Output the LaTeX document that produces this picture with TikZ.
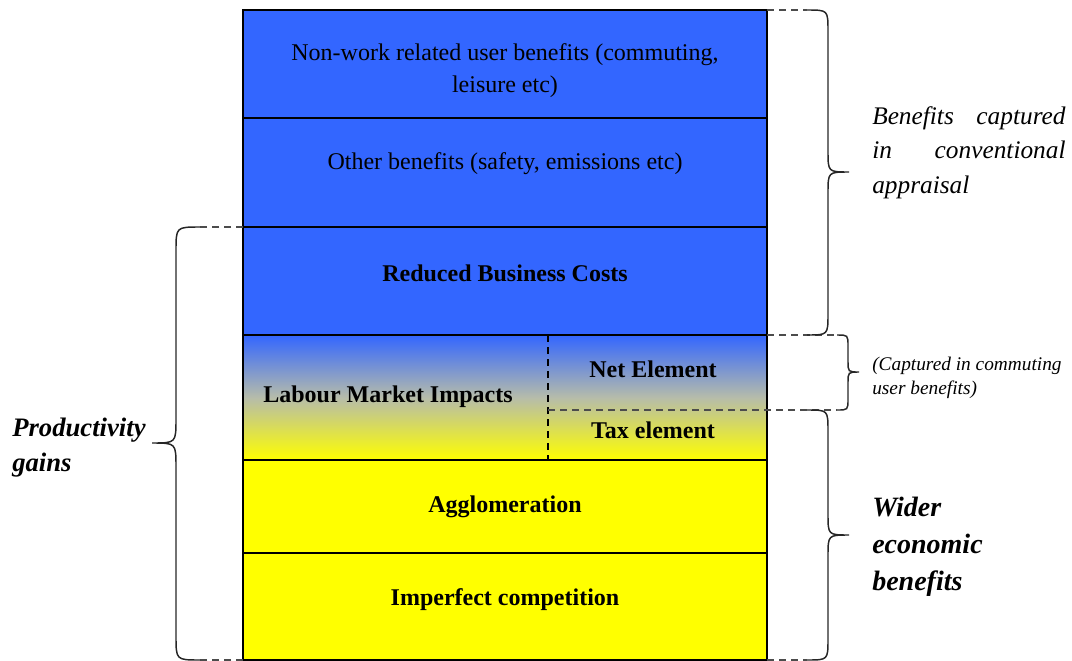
\documentclass[tikz,border=0pt]{standalone}
\usepackage{fontspec}
\setmainfont{Liberation Serif}
\usetikzlibrary{positioning}
\definecolor{benblue}{RGB}{51,102,255}
\definecolor{benyellow}{RGB}{255,255,0}
\definecolor{benmid}{RGB}{182,188,170}

\begin{document}
\begin{tikzpicture}[x=0.75pt,y=-0.75pt,
  cell/.style={draw=black,line width=1.5pt,minimum width=393pt,anchor=north west,inner sep=0pt,outer sep=0pt},
  body/.style={font=\fontsize{18}{24}\selectfont,align=center},
  strong/.style={font=\fontsize{18}{24}\selectfont\bfseries},
  guide/.style={draw=black!70,line width=1pt,dash pattern=on 5pt off 4pt},
  bracket/.style={draw=black!85,line width=1.1pt}]
\useasboundingbox (0,0) rectangle (1072,661);
% the stacked benefit cells
\node[cell,fill=benblue,minimum height=81pt] (nonwork) at (243,10) {};
\node[cell,fill=benblue,minimum height=81.75pt] (other) at (nonwork.south west) {};
\node[cell,fill=benblue,minimum height=81pt] (business) at (other.south west) {};
\node[cell,top color=benblue,bottom color=benyellow,middle color=benmid,minimum height=93.75pt] (labour) at (business.south west) {};
\node[cell,fill=benyellow,minimum height=69.75pt] (agglo) at (labour.south west) {};
\node[cell,fill=benyellow,minimum height=80.25pt] (imperfect) at (agglo.south west) {};
\node[body] at (505,71) {Non-work related user benefits (commuting,\\ leisure etc)};
\node[body] at (505,164) {Other benefits (safety, emissions etc)};
\node[strong] at (505,273) {Reduced Business Costs};
\node[strong] at (388,397) {Labour Market Impacts};
\node[strong] at (653,369) {Net Element};
\node[strong] at (653,430) {Tax element};
\node[strong] at (505,507) {Agglomeration};
\node[strong] at (505,600) {Imperfect competition};
% split of labour market cell
\coordinate (netcol) at (548,0);
\coordinate (taxline) at (548,410);
\draw[guide,draw=black] (labour.north -| netcol) -- (labour.south -| netcol);
% brace ends
\coordinate (convtop) at (807,10);
\coordinate (convbot) at (807,335);
\coordinate (comtop) at (837,335);
\coordinate (combot) at (837,410);
\coordinate (widetop) at (807,410);
\coordinate (widebot) at (807,660);
\coordinate (prodtop) at (200,227);
\coordinate (prodbot) at (200,660);
\draw[guide] (nonwork.north east) -- (convtop);
\draw[guide] (business.south east) -- (comtop);
\draw[guide] (taxline) -- (combot);
\draw[guide] (imperfect.south east) -- (widebot);
\draw[guide] (business.north west) -- (prodtop);
\draw[guide] (imperfect.south west) -- (prodbot);
% braces
\draw[bracket] (convtop) .. controls (828,10) .. (828,31) -- (828,151) .. controls (828,172) .. (849,172)
  .. controls (828,172) .. (828,193) -- (828,314) .. controls (828,335) .. (convbot);
\draw[bracket] (comtop) .. controls (848,335) .. (848,346) -- (848,361) .. controls (848,372) .. (859,372)
  .. controls (848,372) .. (848,383) -- (848,399) .. controls (848,410) .. (combot);
\draw[bracket] (widetop) .. controls (828,410) .. (828,431) -- (828,514) .. controls (828,535) .. (849,535)
  .. controls (828,535) .. (828,556) -- (828,639) .. controls (828,660) .. (widebot);
\draw[bracket] (prodtop) .. controls (176,227) .. (176,251) -- (176,419) .. controls (176,443) .. (152,443)
  .. controls (176,443) .. (176,467) -- (176,636) .. controls (176,660) .. (prodbot);
% side labels
\node[anchor=north west,inner sep=0pt,text width=145pt,align=justify,
  font=\fontsize{19}{26}\selectfont\itshape] (convtxt) at (872,106)
  {\tolerance=9999 Benefits captured in conventional appraisal};
\node[anchor=north west,inner sep=0pt,align=left,font=\fontsize{14.5}{18}\selectfont\itshape]
  (comtxt) at (872,357) {(Captured in commuting\\ user benefits)};
\node[anchor=north west,inner sep=0pt,align=left,font=\fontsize{21}{27.75}\selectfont\bfseries\itshape]
  (widetxt) at (872,497) {Wider\\ economic\\ benefits};
\node[anchor=north west,inner sep=0pt,align=left,font=\fontsize{20}{26}\selectfont\bfseries\itshape]
  (prodtxt) at (12,418) {Productivity\\ gains};
\end{tikzpicture}
\end{document}
